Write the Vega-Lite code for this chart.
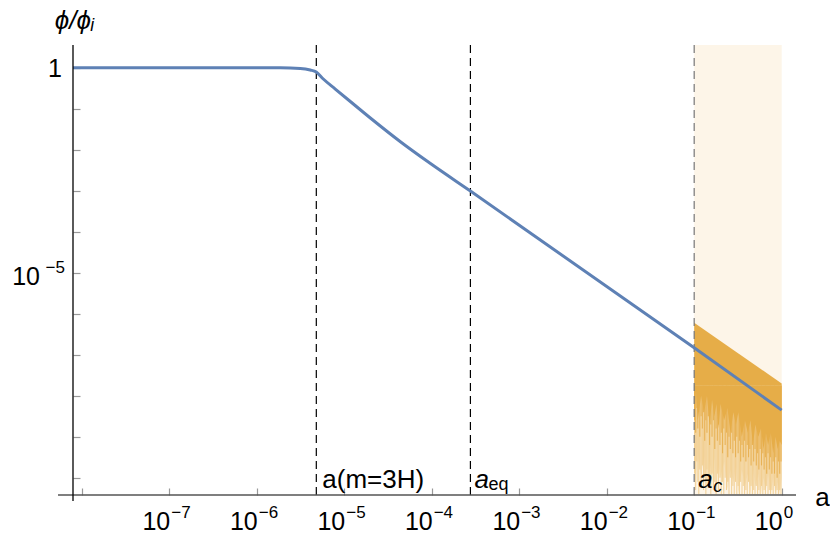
{
  "$schema": "https://vega.github.io/schema/vega-lite/v6.json",
  "width": 723,
  "height": 450,
  "autosize": {"type": "none"},
  "padding": {"left": 73, "top": 45, "right": 34, "bottom": 43},
  "background": "white",
  "config": {"view": {"stroke": null}, "font": "Liberation Sans"},
  "datasets": {
    "curve": [
      {"a": 7.95e-9, "phi": 1}, {"a": 1e-6, "phi": 1}, {"a": 1.86e-6, "phi": 1},
      {"a": 3.15e-6, "phi": 0.962}, {"a": 4.09e-6, "phi": 0.879}, {"a": 4.8e-6, "phi": 0.785},
      {"a": 5.77e-6, "phi": 0.53}, {"a": 7.91e-6, "phi": 0.302}, {"a": 1.175e-5, "phi": 0.15},
      {"a": 1.99e-5, "phi": 0.0594}, {"a": 4.39e-5, "phi": 0.01567}, {"a": 9.68e-5, "phi": 4.6e-3},
      {"a": 2.77e-4, "phi": 9.84e-4}, {"a": 0.1, "phi": 1.48e-7}, {"a": 1, "phi": 4.47e-9}
    ],
    "band": [{"a": 0.1, "top": 6.03e-7}, {"a": 1, "top": 2.0e-8}],
    "rag": [
      {"a": 0.100, "mid": 3.16e-9, "low": 2.51e-10},
      {"a": 0.105, "mid": 1.26e-8, "low": 6.31e-11},
      {"a": 0.11, "mid": 2.51e-9, "low": 3.98e-10},
      {"a": 0.12, "mid": 1e-8, "low": 1e-10},
      {"a": 0.13, "mid": 3.98e-9, "low": 3.16e-10},
      {"a": 0.14, "mid": 1e-8, "low": 5.01e-11},
      {"a": 0.15, "mid": 2e-9, "low": 2.51e-10},
      {"a": 0.16, "mid": 7.94e-9, "low": 7.94e-11},
      {"a": 0.17, "mid": 3.16e-9, "low": 3.16e-10},
      {"a": 0.18, "mid": 6.31e-9, "low": 3.98e-11},
      {"a": 0.19, "mid": 1.58e-9, "low": 2e-10},
      {"a": 0.20, "mid": 6.31e-9, "low": 1e-10},
      {"a": 0.22, "mid": 2.51e-9, "low": 2.51e-10},
      {"a": 0.24, "mid": 5.01e-9, "low": 5.01e-11},
      {"a": 0.26, "mid": 1.26e-9, "low": 1.58e-10},
      {"a": 0.28, "mid": 3.98e-9, "low": 7.94e-11},
      {"a": 0.30, "mid": 2e-9, "low": 2e-10},
      {"a": 0.32, "mid": 3.98e-9, "low": 3.98e-11},
      {"a": 0.35, "mid": 1e-9, "low": 1.58e-10},
      {"a": 0.38, "mid": 2.51e-9, "low": 6.31e-11},
      {"a": 0.41, "mid": 1.26e-9, "low": 1.26e-10},
      {"a": 0.44, "mid": 2.51e-9, "low": 3.98e-11},
      {"a": 0.47, "mid": 6.31e-10, "low": 1.58e-10},
      {"a": 0.50, "mid": 2e-9, "low": 6.31e-11},
      {"a": 0.54, "mid": 1e-9, "low": 1.26e-10},
      {"a": 0.58, "mid": 1.58e-9, "low": 3.98e-11},
      {"a": 0.62, "mid": 5.01e-10, "low": 1e-10},
      {"a": 0.66, "mid": 1.26e-9, "low": 5.01e-11},
      {"a": 0.70, "mid": 6.31e-10, "low": 1.26e-10},
      {"a": 0.75, "mid": 1.26e-9, "low": 3.98e-11},
      {"a": 0.80, "mid": 3.98e-10, "low": 1e-10},
      {"a": 0.85, "mid": 1e-9, "low": 3.98e-11},
      {"a": 0.90, "mid": 5.01e-10, "low": 7.94e-11},
      {"a": 0.95, "mid": 7.94e-10, "low": 3.98e-11},
      {"a": 1.00, "mid": 6.31e-10, "low": 1e-10}
    ],
    "spikes": [
      {"a": 0.101, "s": 2.51e-9, "l": 1.26e-10},
      {"a": 0.104, "s": 1.26e-9, "l": 5.01e-11},
      {"a": 0.107, "s": 5.01e-9, "l": 2.51e-10},
      {"a": 0.110, "s": 1.58e-9, "l": 7.94e-11},
      {"a": 0.113, "s": 3.98e-9, "l": 3.98e-11},
      {"a": 0.116, "s": 1e-9, "l": 1.58e-10},
      {"a": 0.120, "s": 3.16e-9, "l": 6.31e-11},
      {"a": 0.124, "s": 1.58e-9, "l": 2.0e-10},
      {"a": 0.128, "s": 3.98e-9, "l": 5.01e-11},
      {"a": 0.132, "s": 7.94e-10, "l": 1e-10},
      {"a": 0.136, "s": 2.51e-9, "l": 3.98e-11},
      {"a": 0.140, "s": 1.26e-9, "l": 1.58e-10},
      {"a": 0.145, "s": 3.16e-9, "l": 6.31e-11},
      {"a": 0.150, "s": 6.31e-10, "l": 1e-10},
      {"a": 0.155, "s": 2.0e-9, "l": 3.98e-11},
      {"a": 0.160, "s": 1e-9, "l": 1.26e-10},
      {"a": 0.166, "s": 2.51e-9, "l": 5.01e-11},
      {"a": 0.172, "s": 5.01e-10, "l": 7.94e-11},
      {"a": 0.178, "s": 1.58e-9, "l": 3.98e-11},
      {"a": 0.184, "s": 7.94e-10, "l": 1.26e-10},
      {"a": 0.190, "s": 2.0e-9, "l": 5.01e-11},
      {"a": 0.197, "s": 6.31e-10, "l": 1e-10},
      {"a": 0.204, "s": 1.26e-9, "l": 3.98e-11},
      {"a": 0.211, "s": 3.98e-10, "l": 7.94e-11},
      {"a": 0.218, "s": 1.58e-9, "l": 3.98e-11},
      {"a": 0.226, "s": 6.31e-10, "l": 1e-10},
      {"a": 0.234, "s": 1.26e-9, "l": 5.01e-11},
      {"a": 0.242, "s": 3.16e-10, "l": 7.94e-11},
      {"a": 0.250, "s": 1e-9, "l": 3.98e-11},
      {"a": 0.259, "s": 5.01e-10, "l": 1e-10},
      {"a": 0.268, "s": 1.26e-9, "l": 3.98e-11},
      {"a": 0.277, "s": 3.98e-10, "l": 6.31e-11},
      {"a": 0.287, "s": 7.94e-10, "l": 3.98e-11},
      {"a": 0.297, "s": 3.16e-10, "l": 7.94e-11},
      {"a": 0.307, "s": 1e-9, "l": 3.98e-11},
      {"a": 0.318, "s": 3.98e-10, "l": 6.31e-11},
      {"a": 0.329, "s": 7.94e-10, "l": 3.98e-11},
      {"a": 0.340, "s": 2.51e-10, "l": 7.94e-11},
      {"a": 0.352, "s": 6.31e-10, "l": 3.98e-11},
      {"a": 0.364, "s": 3.16e-10, "l": 6.31e-11},
      {"a": 0.377, "s": 7.94e-10, "l": 3.98e-11},
      {"a": 0.390, "s": 2.51e-10, "l": 5.01e-11},
      {"a": 0.404, "s": 6.31e-10, "l": 3.98e-11},
      {"a": 0.418, "s": 3.16e-10, "l": 7.94e-11},
      {"a": 0.432, "s": 5.01e-10, "l": 3.98e-11},
      {"a": 0.447, "s": 2.0e-10, "l": 6.31e-11},
      {"a": 0.463, "s": 6.31e-10, "l": 3.98e-11},
      {"a": 0.479, "s": 2.51e-10, "l": 5.01e-11},
      {"a": 0.496, "s": 5.01e-10, "l": 3.98e-11},
      {"a": 0.513, "s": 2.0e-10, "l": 6.31e-11},
      {"a": 0.531, "s": 3.98e-10, "l": 3.98e-11},
      {"a": 0.549, "s": 1.58e-10, "l": 5.01e-11},
      {"a": 0.568, "s": 5.01e-10, "l": 3.98e-11},
      {"a": 0.588, "s": 2.0e-10, "l": 6.31e-11},
      {"a": 0.609, "s": 3.98e-10, "l": 3.98e-11},
      {"a": 0.630, "s": 1.58e-10, "l": 5.01e-11},
      {"a": 0.652, "s": 3.16e-10, "l": 3.98e-11},
      {"a": 0.675, "s": 1.26e-10, "l": 6.31e-11},
      {"a": 0.698, "s": 3.98e-10, "l": 3.98e-11},
      {"a": 0.722, "s": 1.58e-10, "l": 5.01e-11},
      {"a": 0.747, "s": 3.16e-10, "l": 3.98e-11},
      {"a": 0.773, "s": 1.26e-10, "l": 5.01e-11},
      {"a": 0.800, "s": 2.51e-10, "l": 3.98e-11},
      {"a": 0.828, "s": 1.26e-10, "l": 6.31e-11},
      {"a": 0.857, "s": 3.16e-10, "l": 3.98e-11},
      {"a": 0.887, "s": 1e-10, "l": 5.01e-11},
      {"a": 0.918, "s": 2.51e-10, "l": 3.98e-11},
      {"a": 0.950, "s": 1.26e-10, "l": 5.01e-11},
      {"a": 0.983, "s": 2.51e-10, "l": 3.98e-11}
    ]
  },
  "layer": [
    {
      "data": {"values": [{"a0": 0.1, "a1": 1}]},
      "mark": {"type": "rect", "color": "#FDF5E8"},
      "encoding": {
        "x": {"field": "a0", "type": "quantitative",
              "scale": {"type": "log", "domain": [7.95e-9, 1.458], "nice": false},
              "axis": {"values": [1e-8, 1e-7, 1e-6, 1e-5, 1e-4, 0.001, 0.01, 0.1, 1], "labels": false, "tickSize": -7, "tickColor": "#999999", "tickWidth": 1.2, "domain": false, "grid": false,
                       "title": "a", "titleX": 749, "titleY": 10, "titleAlign": "center", "titleBaseline": "alphabetic", "titleFont": "Liberation Sans", "titleFontSize": 26, "titleFontWeight": "normal", "titleColor": "black"}},
        "x2": {"field": "a1"}
      }
    },
    {
      "data": {"name": "rag"},
      "mark": {"type": "area", "color": "#F8E4C0", "opacity": 0.9},
      "encoding": {
        "x": {"field": "a", "type": "quantitative"},
        "y": {"field": "low", "type": "quantitative"},
        "y2": {"datum": 1.78e-8}
      }
    },
    {
      "data": {"name": "spikes"},
      "mark": {"type": "rule", "color": "#F1CC8C", "strokeWidth": 1, "opacity": 0.9},
      "encoding": {
        "x": {"field": "a", "type": "quantitative"},
        "y": {"field": "l", "type": "quantitative"},
        "y2": {"datum": 1.78e-8}
      }
    },
    {
      "data": {"name": "spikes"},
      "mark": {"type": "rule", "color": "#E8B255", "strokeWidth": 1.1},
      "encoding": {
        "x": {"field": "a", "type": "quantitative"},
        "y": {"field": "s", "type": "quantitative"},
        "y2": {"datum": 1.78e-8}
      }
    },
    {
      "data": {"name": "band"},
      "mark": {"type": "area", "color": "#E6AD48"},
      "encoding": {
        "x": {"field": "a", "type": "quantitative"},
        "y": {"field": "top", "type": "quantitative"},
        "y2": {"datum": 1.78e-8}
      }
    },
    {
      "data": {"name": "rag"},
      "mark": {"type": "area", "color": "#E6AD48"},
      "encoding": {
        "x": {"field": "a", "type": "quantitative"},
        "y": {"field": "mid", "type": "quantitative"},
        "y2": {"datum": 1.78e-8}
      }
    },
    {
      "data": {"values": [{"a": 4.8e-6}, {"a": 2.77e-4}]},
      "mark": {"type": "rule", "color": "black", "strokeWidth": 1.2, "strokeDash": [8, 5]},
      "encoding": {"x": {"field": "a", "type": "quantitative"}}
    },
    {
      "data": {"values": [{"a": 0.1}]},
      "mark": {"type": "rule", "color": "#777777", "strokeWidth": 1.2, "strokeDash": [8, 5]},
      "encoding": {"x": {"field": "a", "type": "quantitative"}}
    },
    {
      "data": {"name": "curve"},
      "mark": {"type": "line", "color": "#5E81B5", "strokeWidth": 3, "interpolate": "monotone"},
      "encoding": {
        "x": {"field": "a", "type": "quantitative"},
        "y": {"field": "phi", "type": "quantitative",
              "scale": {"type": "log", "domain": [3.8e-11, 3.58], "nice": false},
              "axis": {"values": [1e-10, 1e-9, 1e-8, 1e-7, 1e-6, 1e-5, 1e-4, 0.001, 0.01, 0.1, 1], "labels": false, "tickSize": -7, "tickColor": "#999999", "tickWidth": 1.2, "domain": false, "grid": false,
                       "title": "ϕ/ϕᵢ", "titleAngle": 0, "titleX": 1, "titleY": -17, "titleAlign": "center", "titleBaseline": "alphabetic", "titleFont": "Liberation Sans", "titleFontStyle": "italic", "titleFontWeight": "normal", "titleFontSize": 26, "titleColor": "black"}}
      }
    },
    {
      "data": {"values": [{"v": 1}]},
      "mark": {"type": "rule", "color": "#555555", "strokeWidth": 1.3},
      "encoding": {"x": {"datum": 5.36e-9}, "x2": {"datum": 1.458}, "y": {"datum": 3.8e-11}}
    },
    {
      "data": {"values": [{"v": 1}]},
      "mark": {"type": "rule", "color": "black", "strokeWidth": 1.3},
      "encoding": {"x": {"datum": 7.95e-9}, "y": {"datum": 2.7e-11}, "y2": {"datum": 3.58}}
    },
    {
      "data": {"values": [{"a": 1e-7}, {"a": 1e-6}, {"a": 1e-5}, {"a": 1e-4}, {"a": 0.001}, {"a": 0.01}, {"a": 0.1}, {"a": 1}]},
      "mark": {"type": "text", "text": "10", "fontSize": 25, "align": "right", "baseline": "alphabetic", "dx": 1, "dy": 35, "color": "black"},
      "encoding": {"x": {"field": "a", "type": "quantitative"}, "y": {"datum": 3.8e-11}}
    },
    {
      "data": {"values": [{"a": 1e-7, "e": "−7"}, {"a": 1e-6, "e": "−6"}, {"a": 1e-5, "e": "−5"}, {"a": 1e-4, "e": "−4"}, {"a": 0.001, "e": "−3"}, {"a": 0.01, "e": "−2"}, {"a": 0.1, "e": "−1"}, {"a": 1, "e": "0"}]},
      "mark": {"type": "text", "fontSize": 17, "align": "left", "baseline": "alphabetic", "dx": 2, "dy": 23, "color": "black"},
      "encoding": {"x": {"field": "a", "type": "quantitative"}, "y": {"datum": 3.8e-11}, "text": {"field": "e"}}
    },
    {
      "data": {"values": [{"p": 1, "t": "1"}]},
      "mark": {"type": "text", "fontSize": 25, "align": "right", "baseline": "alphabetic", "dx": -11, "dy": 9.3, "color": "black"},
      "encoding": {"x": {"datum": 7.95e-9}, "y": {"field": "p", "type": "quantitative"}, "text": {"field": "t"}}
    },
    {
      "data": {"values": [{"p": 1e-5, "t": "10"}]},
      "mark": {"type": "text", "fontSize": 25, "align": "right", "baseline": "alphabetic", "dx": -33, "dy": 12.3, "color": "black"},
      "encoding": {"x": {"datum": 7.95e-9}, "y": {"field": "p", "type": "quantitative"}, "text": {"field": "t"}}
    },
    {
      "data": {"values": [{"p": 1e-5, "t": "−5"}]},
      "mark": {"type": "text", "fontSize": 17, "align": "right", "baseline": "alphabetic", "dx": -8, "dy": 0.6, "color": "black"},
      "encoding": {"x": {"datum": 7.95e-9}, "y": {"field": "p", "type": "quantitative"}, "text": {"field": "t"}}
    },
    {
      "data": {"values": [{"a": 4.8e-6, "t": "a(m=3H)"}]},
      "mark": {"type": "text", "fontSize": 26, "align": "left", "baseline": "alphabetic", "dx": 6, "dy": -7, "color": "black"},
      "encoding": {"x": {"field": "a", "type": "quantitative"}, "y": {"datum": 3.8e-11}, "text": {"field": "t"}}
    },
    {
      "data": {"values": [{"a": 2.77e-4, "t": "a"}, {"a": 0.1, "t": "a"}]},
      "mark": {"type": "text", "fontSize": 26, "fontStyle": "italic", "align": "left", "baseline": "alphabetic", "dx": 4, "dy": -7, "color": "black"},
      "encoding": {"x": {"field": "a", "type": "quantitative"}, "y": {"datum": 3.8e-11}, "text": {"field": "t"}}
    },
    {
      "data": {"values": [{"a": 2.77e-4, "t": "eq"}]},
      "mark": {"type": "text", "fontSize": 18, "align": "left", "baseline": "alphabetic", "dx": 18, "dy": -5, "color": "black"},
      "encoding": {"x": {"field": "a", "type": "quantitative"}, "y": {"datum": 3.8e-11}, "text": {"field": "t"}}
    },
    {
      "data": {"values": [{"a": 0.1, "t": "c"}]},
      "mark": {"type": "text", "fontSize": 18, "fontStyle": "italic", "align": "left", "baseline": "alphabetic", "dx": 19, "dy": -3.5, "color": "black"},
      "encoding": {"x": {"field": "a", "type": "quantitative"}, "y": {"datum": 3.8e-11}, "text": {"field": "t"}}
    }
  ]
}
